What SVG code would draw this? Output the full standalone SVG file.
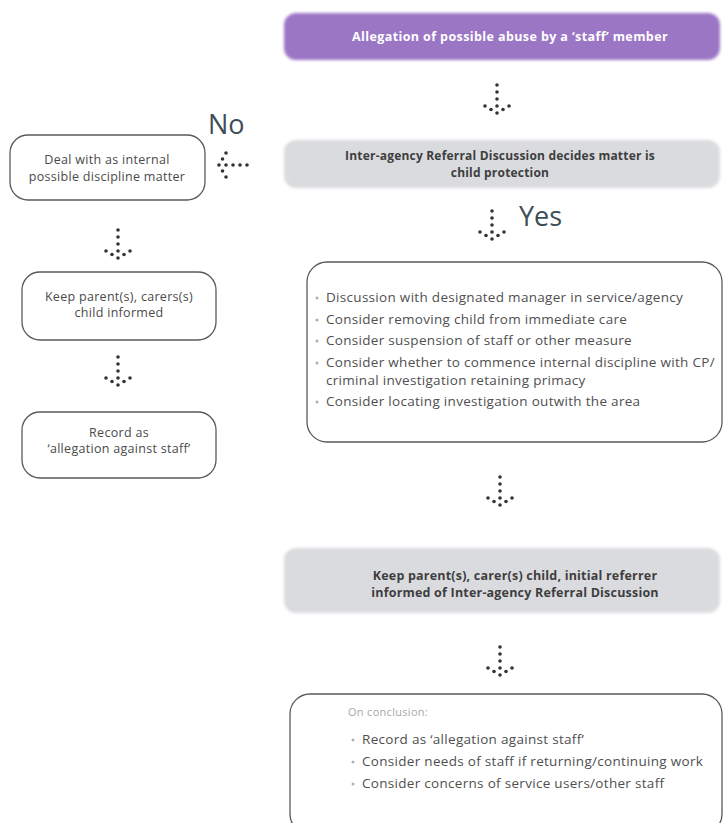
<svg xmlns="http://www.w3.org/2000/svg" width="725" height="823" viewBox="0 0 725 823">
<defs>
<filter id="soft" x="-5%" y="-20%" width="110%" height="140%"><feGaussianBlur stdDeviation="1.6"/></filter>
<g id="arr">
<circle cx="0" cy="-28" r="1.8"/><circle cx="0" cy="-21" r="1.8"/><circle cx="0" cy="-14" r="1.8"/><circle cx="0" cy="-7" r="1.8"/>
<circle cx="-12" cy="-7" r="1.8"/><circle cx="-6" cy="-3.5" r="1.8"/><circle cx="0" cy="0" r="1.8"/><circle cx="6" cy="-3.5" r="1.8"/><circle cx="12" cy="-7" r="1.8"/>
</g>
</defs>
<style>
.box{fill:#fff;stroke:#5a5a5a;stroke-width:1.3}
.grey{fill:#dadbde}
.t{font-family:"Open Sans","Liberation Sans",sans-serif;fill:#4a4a4a}
.s{font-size:12.5px;letter-spacing:0.3px;text-anchor:middle}
.b{font-size:12px;letter-spacing:0.2px;font-weight:bold;text-anchor:middle;fill:#3e3e3e}
.l{font-size:13.5px;letter-spacing:0.3px;fill:#4f4f4f}
.dot{fill:#b0b0b0}
.big{font-family:"Open Sans","Liberation Sans",sans-serif;font-size:27px;fill:#3d4d58}
.con{fill:#333}
</style>
<rect width="725" height="823" fill="#fff"/>
<g id="connectors" class="con">
<use href="#arr" x="497" y="113"/>
<use href="#arr" x="492" y="239"/>
<use href="#arr" transform="translate(219,165) rotate(90)"/>
<use href="#arr" x="118" y="258"/>
<use href="#arr" x="118" y="385"/>
<use href="#arr" x="500" y="505"/>
<use href="#arr" x="500" y="675"/>
</g>
<g id="labels">
<text class="big" x="208" y="134">No</text>
<text class="big" x="519" y="226">Yes</text>
</g>
<g id="n1">
<rect x="284" y="13" width="436" height="47" rx="12" fill="#9b76c5" filter="url(#soft)"/>
<text class="t b" x="510" y="41" style="fill:#fff;font-size:12.5px;letter-spacing:0.4px">Allegation of possible abuse by a ‘staff’ member</text>
</g>
<g id="n2">
<rect class="grey" x="284" y="140" width="436" height="48" rx="12" filter="url(#soft)"/>
<text class="t b" x="500" y="160">Inter-agency Referral Discussion decides matter is</text>
<text class="t b" x="500" y="177">child protection</text>
</g>
<g id="n3">
<rect class="box" x="10" y="135" width="195" height="65" rx="18"/>
<text class="t s" x="107" y="164">Deal with as internal</text>
<text class="t s" x="107" y="181">possible discipline matter</text>
</g>
<g id="n4">
<rect class="box" x="22" y="272" width="194" height="68" rx="18"/>
<text class="t s" x="119" y="301">Keep parent(s), carers(s)</text>
<text class="t s" x="119" y="317">child informed</text>
</g>
<g id="n5">
<rect class="box" x="22" y="412" width="194" height="66" rx="18"/>
<text class="t s" x="119" y="437">Record as</text>
<text class="t s" x="119" y="453">‘allegation against staff’</text>
</g>
<g id="n6">
<rect class="box" x="307" y="262" width="415" height="180" rx="20"/>
<g class="dot"><circle cx="317" cy="298" r="1.5"/><circle cx="317" cy="320" r="1.5"/><circle cx="317" cy="341" r="1.5"/><circle cx="317" cy="363" r="1.5"/><circle cx="317" cy="402" r="1.5"/></g>
<text class="t l" x="326" y="302">Discussion with designated manager in service/agency</text>
<text class="t l" x="326" y="324">Consider removing child from immediate care</text>
<text class="t l" x="326" y="345">Consider suspension of staff or other measure</text>
<text class="t l" x="326" y="367">Consider whether to commence internal discipline with CP/</text>
<text class="t l" x="326" y="385">criminal investigation retaining primacy</text>
<text class="t l" x="326" y="406">Consider locating investigation outwith the area</text>
</g>
<g id="n7">
<rect class="grey" x="284" y="548" width="436" height="65" rx="12" filter="url(#soft)"/>
<text class="t b" x="515" y="580" style="font-size:12.5px">Keep parent(s), carer(s) child, initial referrer</text>
<text class="t b" x="515" y="597" style="font-size:12.5px">informed of Inter-agency Referral Discussion</text>
</g>
<g id="n8">
<rect class="box" x="290" y="694" width="432" height="140" rx="20"/>
<text class="t l" x="348" y="716" style="fill:#a8a8a8;font-size:11px">On conclusion:</text>
<g class="dot"><circle cx="353" cy="740" r="1.5"/><circle cx="353" cy="762" r="1.5"/><circle cx="353" cy="784" r="1.5"/></g>
<text class="t l" x="362" y="744">Record as ‘allegation against staff’</text>
<text class="t l" x="362" y="766">Consider needs of staff if returning/continuing work</text>
<text class="t l" x="362" y="788">Consider concerns of service users/other staff</text>
</g>
</svg>
